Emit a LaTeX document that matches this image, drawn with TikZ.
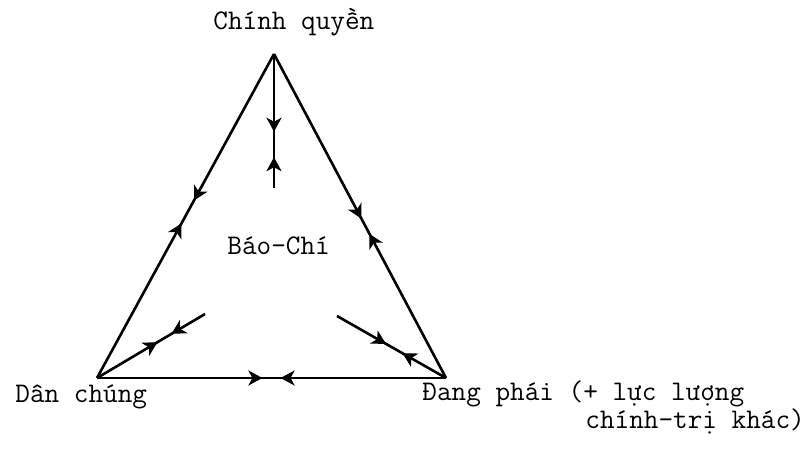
\documentclass[tikz,border=0pt]{standalone}
\usepackage{fontspec}
\usepackage{tikz}
\usetikzlibrary{arrows.meta, decorations.markings}
\tikzset{
  tri line/.style={
    draw=black, line width=1.3pt
  },
  tri meet/.style 2 args={
    tri line,
    postaction={decorate},
    decoration={markings,
      mark=at position #1 with {\arrow{Stealth[length=7pt,width=7.5pt,inset=2pt]}},
      mark=at position #2 with {\arrowreversed{Stealth[length=7pt,width=7.5pt,inset=2pt]}}
    }
  },
  tri label/.style={
    font=\ttfamily\fontsize{14.2}{17}\selectfont,
    inner sep=0pt, anchor=base west
  }
}

\begin{document}
\begin{tikzpicture}[x=0.5pt, y=-0.5pt]
\useasboundingbox (0,0) rectangle (811,449);

% ====== corners and inner ends ======
\coordinate (top) at (274,54);
\coordinate (dc) at (97,378);
\coordinate (dp) at (446,378);
\coordinate (vin) at (274,188);
\coordinate (lin) at (205,314);
\coordinate (rin) at (337,316);

% ====== labels ======
\node[tri label] (cq) at (213,30) {Chính quyền};
\node[tri label] (bc) at (227,255) {Báo-Chí};
\node[tri label] (dch) at (15,403) {Dân chúng};
\node[tri label] (dph) at (422,401) {Đang phái (+ lực lượng};
\node[tri label] (ct) at (585,429) {chính-trị khác)};

% ====== triangle ======
\draw[tri meet={0.477}{0.548}] (dc) -- (top);
\draw[tri meet={0.508}{0.555}] (top) -- (dp);
\draw[tri meet={0.474}{0.526}] (dc) -- (dp);

% ====== toward the press ======
\draw[tri meet={0.58}{0.77}] (top) -- (vin);
\draw[tri meet={0.56}{0.69}] (dc) -- (lin);
\draw[tri meet={0.40}{0.55}] (dp) -- (rin);

\end{tikzpicture}
\end{document}
